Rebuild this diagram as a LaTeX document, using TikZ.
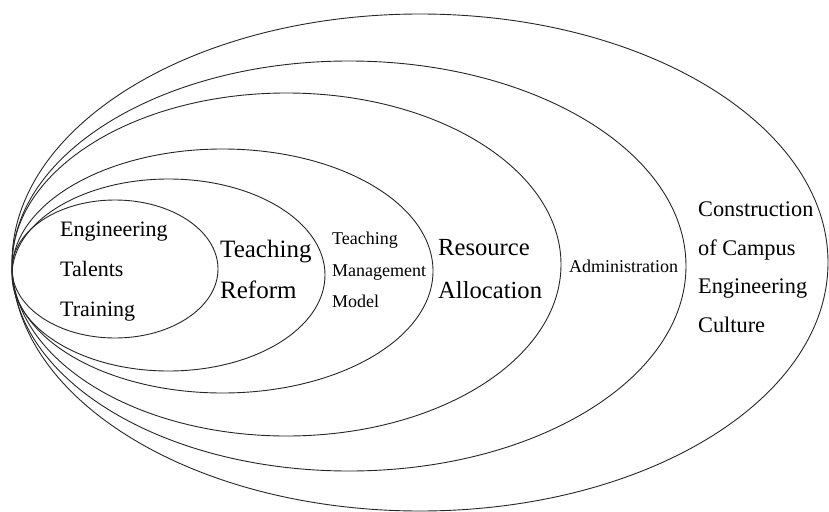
\documentclass[tikz,border=0pt]{standalone}
\usepackage{fontspec}
\newfontfamily\layerfont{LiberationSerif-Regular.ttf}
\usepackage{tikz}
\usetikzlibrary{positioning}
\tikzstyle{ring}=[draw=black!85,line width=0.9pt]
\tikzstyle{layer}=[align=left,inner sep=0pt,anchor=west,text=black]

\begin{document}
\begin{tikzpicture}[x=1pt,y=-1pt]
    \useasboundingbox (0,0) rectangle (829,511);
    % First we draw the nested ellipses, all touching at the left
    \foreach \cx/\cy/\rx/\ry in {115/269/103/69, 168.5/275/156.5/96, 222.5/271/210.5/122, 286.5/264.5/274.5/171.5, 349/266/337/205, 420/262.5/408/248.5}
        \draw[ring] (\cx,\cy) ellipse [x radius=\rx pt, y radius=\ry pt];

    % Then we put the name of each layer
    \foreach \pos/\name/\fs/\ls/\words in {{(60,272)/talents/22/40/{Engineering\\Talents\\Training}}, {(220,269)/reform/25/41/{Teaching\\Reform}}, {(332,270)/model/18/31.5/{Teaching\\Management\\Model}}, {(438,269)/allocation/24.6/43/{Resource\\Allocation}}, {(569,266)/admin/18/20/{Administration}}, {(698,267)/culture/22.3/38.5/{Construction\\of Campus\\Engineering\\Culture}}}
        \node[layer, font={\layerfont\fontsize{\fs}{\ls}\selectfont}] (\name) at \pos {\words};
\end{tikzpicture}
\end{document}
